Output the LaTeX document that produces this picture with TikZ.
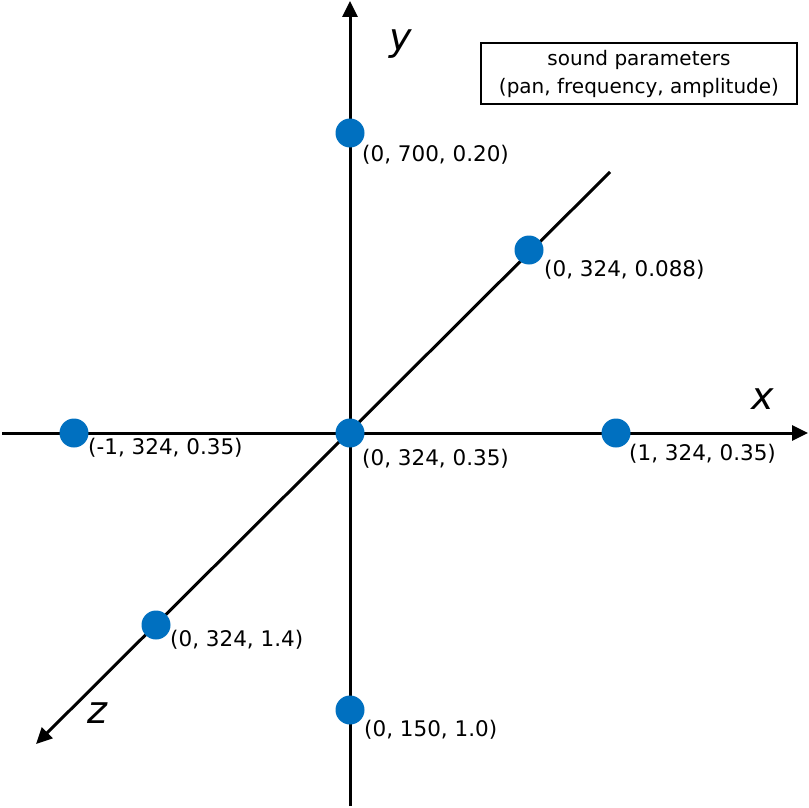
\documentclass[tikz,border=0pt]{standalone}
\usepackage{fontspec}
\setmainfont{DejaVu Sans}
\usetikzlibrary{arrows.meta}
\definecolor{dotblue}{RGB}{0,112,192}
\tikzset{
  axis/.style={line width=3pt, -{Triangle[length=16pt,width=15pt]}},
  dot/.style={circle, fill=dotblue, minimum size=29pt, inner sep=0pt},
  lbl/.style={anchor=west, inner sep=0pt, font=\fontsize{21.5}{25}\selectfont},
  axlbl/.style={inner sep=0pt, font=\fontsize{38}{42}\selectfont\itshape},
  legend/.style={draw, line width=1.4pt, minimum width=316pt, minimum height=61pt, align=center, inner sep=2pt, font=\fontsize{20}{28}\selectfont}
}
\begin{document}
\begin{tikzpicture}[x=1pt,y=-1pt]
\useasboundingbox (0,0) rectangle (809,808);
\coordinate (ytop) at (350,1);
\coordinate (ybot) at (350,806);
\coordinate (xleft) at (2,433);
\coordinate (xright) at (808,433);
\coordinate (zfar) at (610,172);
\coordinate (znear) at (36,744);
\draw[axis] (ybot) -- (ytop);
\draw[axis] (xleft) -- (xright);
\draw[axis] (zfar) -- (znear);
\node[axlbl] (ly) at (401,44) {y};
\node[axlbl] (lx) at (763,399) {x};
\node[axlbl] (lz) at (97,713) {z};
\node[dot] (p1) at (350,133) {};
\node[dot] (p2) at (529,250) {};
\node[dot] (p3) at (74,433) {};
\node[dot] (p4) at (350,433) {};
\node[dot] (p5) at (616,433) {};
\node[dot] (p6) at (156,625) {};
\node[dot] (p7) at (350,710) {};
\node[lbl] (t1) at (362,155) {(0, 700, 0.20)};
\node[lbl] (t2) at (544,270) {(0, 324, 0.088)};
\node[lbl] (t3) at (88,448) {(-1, 324, 0.35)};
\node[lbl] (t4) at (362,459) {(0, 324, 0.35)};
\node[lbl] (t5) at (629,454) {(1, 324, 0.35)};
\node[lbl] (t6) at (170,640) {(0, 324, 1.4)};
\node[lbl] (t7) at (364,730) {(0, 150, 1.0)};
\node[legend] (box) at (639,73.5) {sound parameters\\(pan, frequency, amplitude)};
\end{tikzpicture}
\end{document}
